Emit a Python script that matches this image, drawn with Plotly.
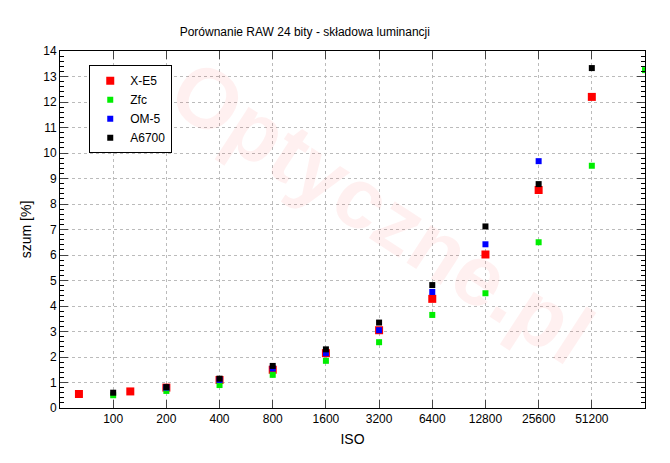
import plotly.graph_objects as go

iso_xe5 = [64, 125, 200, 400, 800, 1600, 3200, 6400, 12800, 25600, 51200]
xe5 = [0.55, 0.65, 0.8, 1.1, 1.5, 2.15, 3.05, 4.28, 6.02, 8.55, 12.2]
iso_zfc = [100, 200, 400, 800, 1600, 3200, 6400, 12800, 25600, 51200, 102400]
zfc = [0.5, 0.67, 0.9, 1.3, 1.85, 2.58, 3.65, 4.5, 6.5, 9.5, 13.25]
iso_om5 = [200, 400, 800, 1600, 3200, 6400, 12800, 25600]
om5 = [0.8, 1.1, 1.55, 2.15, 3.05, 4.55, 6.42, 9.68]
iso_a67 = [100, 200, 400, 800, 1600, 3200, 6400, 12800, 25600, 51200]
a67 = [0.6, 0.82, 1.15, 1.65, 2.3, 3.35, 4.82, 7.12, 8.78, 13.33]
ticks = [100, 200, 400, 800, 1600, 3200, 6400, 12800, 25600, 51200]

fig = go.Figure()
for name, xs, ys, col, sz in [("X-E5", iso_xe5, xe5, "#ff0000", 8),
                              ("Zfc", iso_zfc, zfc, "#00ee00", 6),
                              ("OM-5", iso_om5, om5, "#0000ff", 6),
                              ("A6700", iso_a67, a67, "#000000", 6)]:
    fig.add_trace(go.Scatter(x=xs, y=ys, mode="markers", name=name,
                             marker=dict(symbol="square", size=sz, color=col)))

fig.add_annotation(x=0.55, y=0.55, xref="paper", yref="paper", text="<b>Optyczne.pl</b>",
                   showarrow=False, textangle=33, font=dict(size=85, color="rgba(255,0,0,0.06)", family="Arial"))

fig.update_layout(
    width=670, height=463, plot_bgcolor="white", paper_bgcolor="white",
    margin=dict(l=52, r=33, t=43, b=63, autoexpand=False),
    font=dict(family="Liberation Sans, Arial", size=12, color="black"),
    title=dict(text="Porównanie RAW 24 bity - składowa luminancji", x=0.443, y=0.948, xanchor="center", yanchor="middle", font=dict(size=12)),
    legend=dict(x=0.05, y=0.96, xanchor="left", yanchor="top", bordercolor="black", borderwidth=1,
                bgcolor="white", font=dict(size=12)),
    xaxis=dict(type="log", range=[1.699, 5.0103], tickvals=ticks, ticktext=[str(t) for t in ticks],
               automargin=False,
               showgrid=True, gridcolor="#bbbbbb", griddash="dot", showline=True, linecolor="black",
               mirror="ticks", ticks="inside", ticklen=8, title=dict(text="ISO", standoff=8), zeroline=False),
    yaxis=dict(range=[0, 14], dtick=1, showgrid=True, gridcolor="#bbbbbb", griddash="dot", automargin=False,
               showline=True, linecolor="black", mirror="ticks", ticks="inside", ticklen=8,
               minor=dict(dtick=0.2, ticks="inside", ticklen=4, tickcolor="black"),
               title=dict(text="szum [%]", standoff=8), zeroline=False),
)
fig.write_html("out.html")
